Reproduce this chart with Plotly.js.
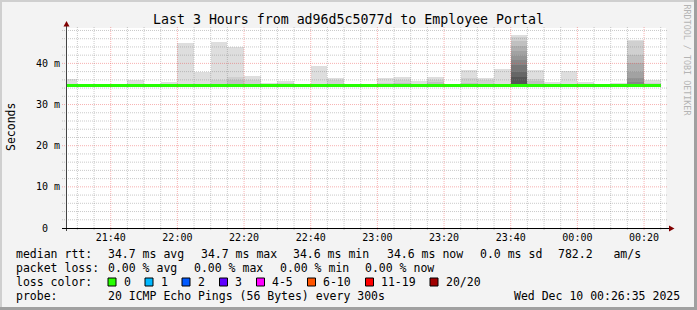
<!DOCTYPE html>
<html><head><meta charset="utf-8">
<script src="https://cdn.plot.ly/plotly-3.0.1.min.js"></script>
<style>html,body{margin:0;padding:0;background:#f3f3f3;}#chart{width:697px;height:310px;}</style>
</head><body><div id="chart"></div>
<script>
// ---------- data ----------
const binStarts = ['21:25','21:30','21:35','21:40','21:45','21:50','21:55','22:00','22:05','22:10','22:15','22:20',
  '22:25','22:30','22:35','22:40','22:45','22:50','22:55','23:00','23:05','23:10','23:15','23:20',
  '23:25','23:30','23:35','23:40','23:45','23:50','23:55','00:00','00:05','00:10','00:15','00:20'];
const medianRtt = [34.6,34.6,34.6,34.6,34.6,34.6,34.6,34.7,34.6,34.6,34.7,34.7,
  34.6,34.6,34.6,34.7,34.6,34.6,34.6,34.7,34.6,34.6,34.6,34.7,
  34.6,34.6,34.6,34.7,34.7,34.6,34.7,34.6,34.6,34.6,34.7,34.6];
const minRtt = [34.4,34.4,34.4,34.4,34.4,34.4,34.4,34.5,34.4,34.4,34.5,34.5,
  34.4,34.4,34.4,34.5,34.4,34.4,34.4,34.5,34.4,34.4,34.4,34.5,
  34.4,34.4,34.4,34.5,34.5,34.4,34.5,34.4,34.4,34.4,34.5,34.4];
// upper-half sorted pings per bin, outermost (max) first
const smokeTops = [
  [36.1],[34.9],[34.9],[34.9],[36.0],[35.0],[35.4,35.1],[45.0],[37.8],[45.2,36.0],[44.1,36.8,36.0],[36.9,36.0],
  [35.3],[35.8,35.3],[34.9],[39.4],[36.4,35.9],[34.9],[34.9],[36.5,35.3],[36.8,36.0,35.3],[35.8],[36.8,36.0,35.4],[34.9],
  [38.4,36.5,35.3],[36.4,35.9],[38.6],[46.9,46.4,45.4,44.2,43.0,41.9,40.8,39.5,38.0,36.6],[38.4,36.3,35.8],[35.4],[38.1],[35.6],
  [34.9],[35.3],[45.7,45.4,42.0,40.2,38.0,36.4,35.5],[36.0,35.3]
];
const yTickVals = [0,10,20,30,40];
const yTickText = ['0  ','10 m','20 m','30 m','40 m'];
const lossLabels = ['0','1','2','3','4-5','6-10','11-19','20/20'];
const lossColors = ['#26ff00','#00b8ff','#0059ff','#5e00ff','#ff00ff','#ff5500','#ff0000','#a00000'];
const rttStats = ['34.7 ms avg','34.7 ms max','34.6 ms min','34.6 ms now','0.0 ms sd','782.2   am/s'];
const lossStats = ['0.00 % avg','0.00 % max','0.00 % min','0.00 % now'];
const probeText = '20 ICMP Echo Pings (56 Bytes) every 300s';
const stampText = 'Wed Dec 10 00:26:35 2025';
const titleText = 'Last 3 Hours from ad96d5c5077d to Employee Portal';

// ---------- helpers / style ----------
const FONT = 'DejaVu Sans Mono';
const smokeGreys = ['#dedede','#d0d0d0','#c0c0c0','#b0b0b0','#a2a2a2','#949494','#868686','#767676','#666666','#555555'];
const L = 66, T = 28, PW = 600, PH = 200;
const px = p => (p - L) / PW;
const py = p => (T + PH - p) / PH;
const nb = s => s.replace(/ /g, '\u00a0');
const toDate = hm => {
  const h = +hm.slice(0, 2);
  return (h < 12 ? '2025-12-10 ' : '2025-12-09 ') + hm + ':00';
};
const xs = binStarts.map(toDate);
const BIN = 300000;

const traces = [];
for (let j = 0; j < smokeGreys.length; j++) {
  const y = [], base = [];
  smokeTops.forEach((tops, i) => {
    if (tops.length > j) { y.push(tops[j] - minRtt[i]); base.push(minRtt[i]); }
    else { y.push(null); base.push(minRtt[i]); }
  });
  traces.push({type:'bar', x: xs, y, base, width: BIN, offset: 0,
    marker:{color: smokeGreys[j], line:{width:0}}, hoverinfo:'skip', showlegend:false});
}
const HALF = 0.36;
traces.push({type:'bar', x: xs, y: medianRtt.map(() => 2*HALF), base: medianRtt.map(m => m - HALF),
  width: BIN, offset: 0, marker:{color: lossColors[0], line:{width:0}}, hoverinfo:'skip', showlegend:false});

// ---------- grid shapes ----------
const shapes = [];
const minorGrid = 'rgba(128,128,128,0.42)', majorGrid = 'rgba(235,70,70,0.42)';
const t0 = new Date('2025-12-09T21:30:00Z').getTime();
for (let k = 0; k < 36; k++) {
  const t = t0 + k * BIN;
  const d = new Date(t);
  const str = d.toISOString().replace('T',' ').slice(0,19);
  const major = (d.getUTCMinutes() % 20) === 0;
  shapes.push({type:'line', xref:'x', yref:'paper', x0:str, x1:str, y0: -2/PH, y1: 1 + 2/PH,
    line:{color: major ? majorGrid : minorGrid, width:1, dash:'1px,1px'}, layer:'above'});
}
for (let v = 2; v <= 48; v += 2) {
  const major = v % 10 === 0;
  shapes.push({type:'line', xref:'paper', yref:'y', x0: -4/PW, x1: 1 + 2/PW, y0: v, y1: v,
    line:{color: major ? majorGrid : minorGrid, width:1, dash:'1px,1px'}, layer:'above'});
}
// axes + arrows
shapes.push({type:'line', xref:'paper', yref:'paper', x0: px(66.5), x1: px(66.5), y0: py(231), y1: py(25),
  line:{color:'#444', width:1}, layer:'above'});
shapes.push({type:'line', xref:'paper', yref:'paper', x0: px(62), x1: px(670), y0: py(228.5), y1: py(228.5),
  line:{color:'#000', width:1}, layer:'above'});
shapes.push({type:'path', xref:'paper', yref:'paper',
  path:`M${px(63.5)},${py(26.5)} L${px(66.5)},${py(21)} L${px(69.5)},${py(26.5)} Z`,
  fillcolor:'#800000', line:{width:0}, layer:'above'});
shapes.push({type:'path', xref:'paper', yref:'paper',
  path:`M${px(669)},${py(225.5)} L${px(674.5)},${py(228.5)} L${px(669)},${py(231.5)} Z`,
  fillcolor:'#800000', line:{width:0}, layer:'above'});
// frame
shapes.push({type:'rect', xref:'paper', yref:'paper', x0: px(0), x1: px(697), y0: py(0), y1: py(2),
  fillcolor:'#cfcfcf', line:{width:0}, layer:'below'});
shapes.push({type:'rect', xref:'paper', yref:'paper', x0: px(0), x1: px(2), y0: py(0), y1: py(310),
  fillcolor:'#cfcfcf', line:{width:0}, layer:'below'});
shapes.push({type:'rect', xref:'paper', yref:'paper', x0: px(694), x1: px(697), y0: py(0), y1: py(310),
  fillcolor:'#a0a0a0', line:{width:0}, layer:'below'});
shapes.push({type:'rect', xref:'paper', yref:'paper', x0: px(0), x1: px(697), y0: py(307), y1: py(310),
  fillcolor:'#a0a0a0', line:{width:0}, layer:'below'});

// ---------- annotations ----------
const ann = [];
const txt = (s, x, y, opt = {}) => ann.push(Object.assign({text: nb(s), xref:'paper', yref:'paper',
  x: px(x), y: py(y), xanchor:'left', yanchor:'middle', showarrow:false, borderpad:0,
  font:{family:FONT, size:11.5, color:'#000'}}, opt));

txt('median rtt:', 15, 254);
[107, 199.5, 292, 385.5, 478.5, 557].forEach((x, i) => txt(rttStats[i], x, 254));
txt('packet loss:', 15, 268);
[107, 193, 278.5, 364].forEach((x, i) => txt(lossStats[i], x, 268));
txt('loss color:', 15, 282);
const boxX = [108, 145, 182, 219.5, 256.5, 307.5, 365.5, 430];
lossLabels.forEach((lab, i) => {
  shapes.push({type:'rect', xref:'paper', yref:'paper', x0: px(boxX[i]), x1: px(boxX[i] + 8),
    y0: py(278), y1: py(286), fillcolor: lossColors[i], line:{color:'#000', width:1}, layer:'above'});
  txt(lab, boxX[i] + 14.5, 282);
});
txt('probe:', 15, 296);
txt(probeText, 107, 296);
txt(stampText, 680.5, 296, {xanchor:'right'});
txt('Seconds', 10.5, 127.5, {xanchor:'center', textangle:-90});
txt('RRDTOOL / TOBI OETIKER', 686.5, 60, {xanchor:'center', textangle:90,
  font:{family:FONT, size:8.4, color:'#b4b4b4'}});

const layout = {
  width: 697, height: 310,
  margin: {l: L, r: 697 - L - PW, t: T, b: 310 - T - PH, pad: 0},
  paper_bgcolor: '#f3f3f3', plot_bgcolor: '#ffffff',
  barmode: 'overlay', bargap: 0, showlegend: false,
  title: {text: titleText, x: 0.5, xref: 'container', xanchor: 'center',
    y: 1 - 19/310, yref: 'container', yanchor: 'middle',
    font: {family: FONT, size: 13.25, color: '#000'}},
  xaxis: {type: 'date', range: ['2025-12-09 21:26:35', '2025-12-10 00:26:35'],
    tickmode: 'linear', tick0: '2025-12-09 21:40:00', dtick: 1200000, tickformat: '%H:%M',
    showgrid: false, zeroline: false, showline: false, ticks: '',
    ticklabelstandoff: 2,
    tickfont: {family: FONT, size: 10, color: '#000'}, fixedrange: true},
  yaxis: {range: [0, 48.6], tickmode: 'array', tickvals: yTickVals, ticktext: yTickText.map(nb),
    showgrid: false, zeroline: false, showline: false, ticks: '',
    ticklabelstandoff: 5,
    tickfont: {family: FONT, size: 10, color: '#000'}, fixedrange: true},
  shapes, annotations: ann
};
Plotly.newPlot('chart', traces, layout, {displayModeBar: false, staticPlot: true});
</script></body></html>
